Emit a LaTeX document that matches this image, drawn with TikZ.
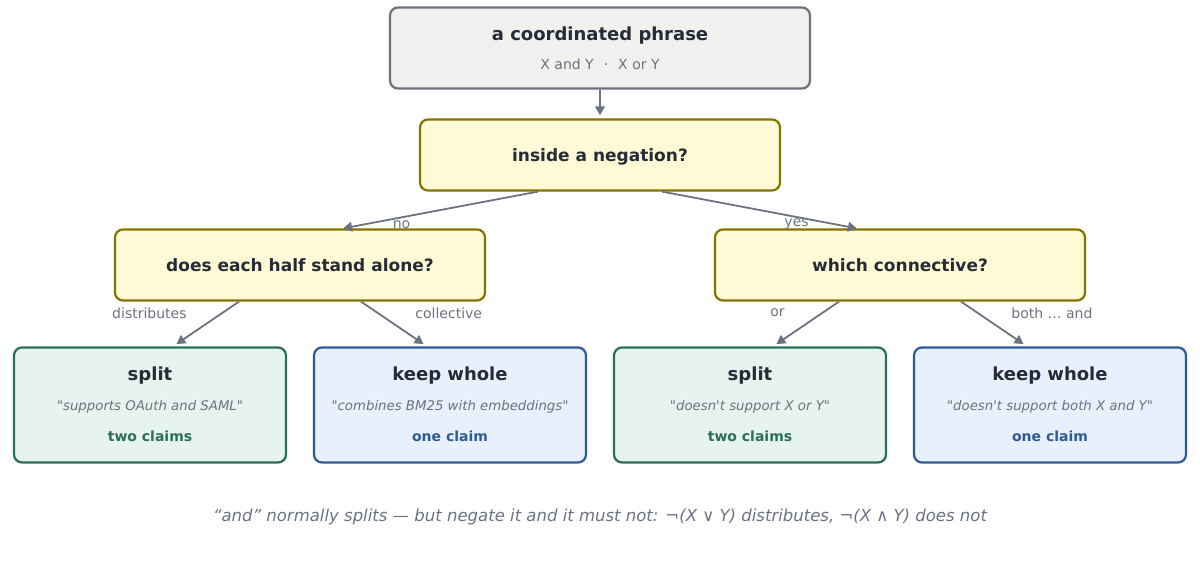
\documentclass[tikz,border=0pt]{standalone}
\usepackage{fontspec}
\setmainfont{DejaVu Sans}[Ligatures=TeXOff]
\usetikzlibrary{arrows.meta}

\begin{document}
\begin{tikzpicture}[x=1pt,y=-1pt,
  box/.style={draw,rounded corners=8pt,line width=2.2pt,inner sep=0pt},
  askbox/.style={box,draw=mustard,fill=cream,minimum width=370pt,minimum height=71pt,
    text=ink,text depth=0pt,font=\bfseries\fontsize{17}{20}\selectfont},
  leafbox/.style={box,minimum width=272pt,minimum height=115pt},
  arr/.style={draw=slate,line width=1.8pt,-{Triangle[length=9pt,width=9.5pt]}},
  lbl/.style={text=slate,font=\fontsize{14}{16}\selectfont,inner sep=0pt}]
\definecolor{ink}{HTML}{252B37}
\definecolor{slate}{HTML}{6B7280}
\definecolor{paper}{HTML}{F0F0EE}
\definecolor{mustard}{HTML}{857200}
\definecolor{cream}{HTML}{FFFAD6}
\definecolor{splitLine}{HTML}{2B6E5C}
\definecolor{splitFill}{HTML}{E7F3EE}
\definecolor{wholeLine}{HTML}{2E5B96}
\definecolor{wholeFill}{HTML}{E8F0FB}
\useasboundingbox (0,0) rectangle (1200,560);

% root and the two questions
\node [box,draw=slate,fill=paper,minimum width=420pt,minimum height=81pt] (phrase) at (600,48) {};
\node [text=ink,font=\bfseries\fontsize{18}{21}\selectfont] (phrasehead) at (600,35.5) {a coordinated phrase};
\node [text=slate,font=\fontsize{14}{16}\selectfont] (phrasesub) at (600,64) {X and Y\hspace{10pt}·\hspace{10pt}X or Y};
\node [askbox,minimum width=360pt] (negq) at (600,155) {inside a negation?};
\node [askbox] (halfq) at (300,265) {does each half stand alone?};
\node [askbox] (connq) at (900,265) {which connective?};

% the four outcomes
\foreach \nm/\cx/\kind/\head/\quote/\claim in
  {splitA/150/split/split/{"supports OAuth and SAML"}/two claims,
   wholeA/450/whole/keep whole/{"combines BM25 with embeddings"}/one claim,
   splitB/750/split/split/{"doesn't support X or Y"}/two claims,
   wholeB/1050/whole/keep whole/{"doesn't support both X and Y"}/one claim}
{ \node [leafbox,draw=\kind Line,fill=\kind Fill] (\nm) at (\cx,405) {};
  \node [text=ink,font=\bfseries\fontsize{18}{21}\selectfont] (\nm head) at (\cx,376) {\head};
  \node [text=slate,font=\itshape\fontsize{13.3}{15}\selectfont] (\nm quote) at (\cx,406.5) {\quote};
  \node [text=\kind Line,font=\bfseries\fontsize{14}{16}\selectfont] (\nm claim) at (\cx,436) {\claim};}

\draw [arr,shorten >=3pt] (phrase) -- (negq);
\draw [arr] ([xshift=-62pt]negq.south) -- node[lbl,pos=0.7,anchor=north,yshift=-2pt] {no} ([xshift=43pt]halfq.north);
\draw [arr] ([xshift=62pt]negq.south) -- node[lbl,pos=0.69,anchor=north,yshift=-1pt] {yes} ([xshift=-43pt]connq.north);
\draw [arr,shorten >=4pt] ([xshift=-61pt]halfq.south) -- node[lbl,pos=0.25,left=35pt] {distributes} ([xshift=23pt]splitA.north);
\draw [arr,shorten >=4pt] ([xshift=61pt]halfq.south) -- node[lbl,pos=0.25,right=37pt] {collective} ([xshift=-23pt]wholeA.north);
\draw [arr,shorten >=4pt] ([xshift=-61pt]connq.south) -- node[lbl,pos=0.25,left=37pt] {or} ([xshift=23pt]splitB.north);
\draw [arr,shorten >=4pt] ([xshift=61pt]connq.south) -- node[lbl,pos=0.25,right=33pt] {both … and} ([xshift=-23pt]wholeB.north);

\node [text=slate,font=\itshape\fontsize{16.5}{19}\selectfont] (footnote) at (600,517)
  {“and” normally splits — but negate it and it must not: ¬(X ∨ Y) distributes, ¬(X ∧ Y) does not};
\end{tikzpicture}
\end{document}
